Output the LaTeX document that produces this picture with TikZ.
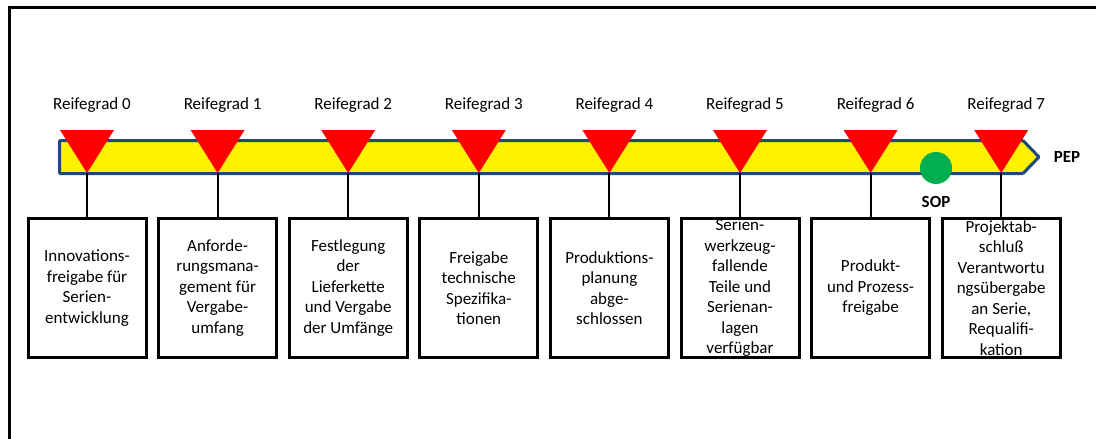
\documentclass[tikz,border=0pt]{standalone}
\usepackage{fontspec}
\setmainfont{Carlito}
\definecolor{bandblue}{RGB}{31,73,125}
\definecolor{sopgreen}{RGB}{0,176,80}

\begin{document}
\begin{tikzpicture}[x=1pt,y=-1pt,
  every node/.style={font=\fontsize{17}{20.5}\selectfont},
  stage/.style={draw,line width=3pt,minimum width=118pt,minimum height=139pt,
    align=center,inner sep=0pt},
  link/.style={line width=2pt},
  band/.style={draw=bandblue,fill=yellow,line width=3pt,rounded corners=1pt}]
\useasboundingbox (0,0) rectangle (1096,439);
\draw[line width=3pt] (9.5,439) -- (9.5,7.5) -- (1096,7.5);
% PEP arrow
\draw[band] (59.5,140.5) -- (1023,140.5) -- (1039,157) -- (1023,173.5) -- (59.5,173.5) -- cycle;
\node [font=\fontsize{17}{20.5}\selectfont\bfseries] (pep) at (1067,157) {PEP};
\fill[sopgreen] (936,168) circle (16);
\node [font=\fontsize{17}{20.5}\selectfont\bfseries] (sop) at (936,202) {SOP};
% milestones
\foreach \i/\txt in {
  0/{Innovations-\\freigabe für\\Serien-\\entwicklung},
  1/{Anforde-\\rungsmana-\\gement für\\Vergabe-\\umfang},
  2/{Festlegung\\der\\Lieferkette\\und Vergabe\\der Umfänge},
  3/{Freigabe\\technische\\Spezifika-\\tionen},
  4/{Produktions-\\planung\\abge-\\schlossen},
  5/{Serien-\\werkzeug-\\fallende\\Teile und\\Serienan-\\lagen\\verfügbar},
  6/{Produkt-\\und Prozess-\\freigabe},
  7/{Projektab-\\schluß\\Verantwortu\\ngsübergabe\\an Serie,\\Requalifi-\\kation}}
{
  \pgfmathsetmacro\x{87+130.6*\i}
  \coordinate (m\i) at (\x,173);
  \fill[red] (\x-27,130) -- (\x+27,130) -- (m\i) -- cycle;
  \node (lab\i) at (\x+5,105) {Reifegrad \i};
  \node [stage] (box\i) at (\x,288) {\txt};
  \draw[link] (m\i) -- (box\i);
}
\end{tikzpicture}
\end{document}
